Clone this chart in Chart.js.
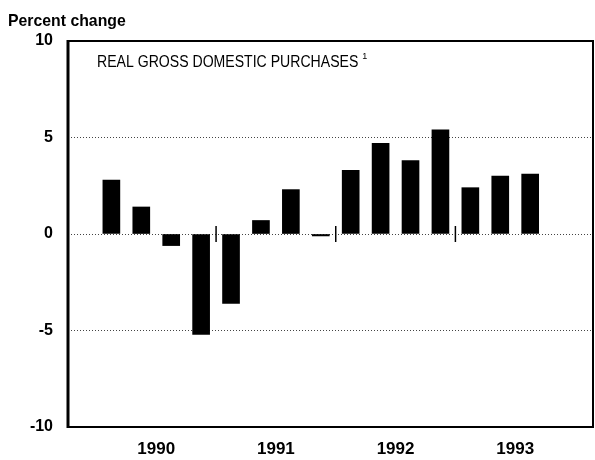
<!DOCTYPE html>
<html>
<head>
<meta charset="utf-8">
<script src="https://cdn.jsdelivr.net/npm/chart.js@4.4.0/dist/chart.umd.min.js"></script>
<style>
  html, body { margin: 0; padding: 0; background: #fff; }
  #wrap { width: 595px; height: 460px; position: relative; }
</style>
</head>
<body>
<div id="wrap"><canvas id="c" width="595" height="460"></canvas></div>
<script>
// Data (quarterly percent change, annual rate)
const quarters = ['1990 I','1990 II','1990 III','1990 IV','1991 I','1991 II','1991 III','1991 IV',
                  '1992 I','1992 II','1992 III','1992 IV','1993 I','1993 II','1993 III'];
const values = [2.8, 1.4, -0.6, -5.2, -3.6, 0.7, 2.3, -0.1, 3.3, 4.7, 3.8, 5.4, 2.4, 3.0, 3.1];
const yearLabels = ['1990', '1991', '1992', '1993'];
const yTicks = [-10, -5, 0, 5, 10];
const seriesTitle = 'REAL GROSS DOMESTIC PURCHASES';
const axisTitle = 'Percent change';

const yearCenters = yearLabels.map((_, k) => k * 4 + 1.5);
const yearBreaks = [3.5, 7.5, 11.5];

function scaledText(ctx, text, x, y, sx) {
  ctx.save();
  ctx.translate(x, y);
  ctx.scale(sx, 1);
  ctx.fillText(text, 0, 0);
  const w = ctx.measureText(text).width * sx;
  ctx.restore();
  return w;
}

const decor = {
  id: 'decor',
  afterDraw(chart) {
    const ctx = chart.ctx, a = chart.chartArea;
    const xs = chart.scales.x, ys = chart.scales.y;
    ctx.save();
    ctx.strokeStyle = '#000';
    ctx.lineWidth = 2;
    ctx.strokeRect(a.left, a.top, a.right - a.left, a.bottom - a.top);
    ctx.lineWidth = 3;
    ctx.beginPath(); ctx.moveTo(a.left, a.top - 1); ctx.lineTo(a.left, a.bottom + 1); ctx.stroke();
    // year separators at the zero line
    ctx.lineWidth = 1.5;
    const y0 = ys.getPixelForValue(0);
    yearBreaks.forEach(b => {
      const x = xs.getPixelForValue(b);
      ctx.beginPath(); ctx.moveTo(x, y0 - 8); ctx.lineTo(x, y0 + 8); ctx.stroke();
    });
    // texts
    ctx.fillStyle = '#000';
    ctx.textBaseline = 'alphabetic';
    ctx.textAlign = 'left';
    ctx.font = 'bold 17px "Liberation Sans", Arial, sans-serif';
    scaledText(ctx, axisTitle, 8, 26, 0.93);
    ctx.font = '16px "Liberation Sans", Arial, sans-serif';
    const w = scaledText(ctx, seriesTitle, a.left + 29, 67, 0.88);
    ctx.font = '9px "Liberation Sans", Arial, sans-serif';
    ctx.fillText('1', a.left + 29 + w + 4, 59);
    ctx.restore();
  }
};

new Chart(document.getElementById('c'), {
  type: 'bar',
  data: {
    labels: quarters,
    datasets: [{
      label: seriesTitle,
      data: values.map((v, i) => ({ x: i, y: v })),
      backgroundColor: '#000',
      borderWidth: 0,
      barThickness: 17
    }]
  },
  options: {
    responsive: false,
    animation: false,
    layout: { padding: { left: 0, right: 2, top: 41, bottom: 0 } },
    plugins: { legend: { display: false }, tooltip: { enabled: false }, title: { display: false } },
    scales: {
      x: {
        type: 'linear',
        offset: false,
        min: -1.45,
        max: 16.1,
        grid: { display: false, drawTicks: false },
        border: { display: false },
        afterBuildTicks(scale) { scale.ticks = yearCenters.map(v => ({ value: v })); },
        afterFit(scale) { scale.height = 33; },
        ticks: {
          autoSkip: false,
          maxRotation: 0,
          padding: 12,
          color: '#000',
          font: { family: '"Liberation Sans", Arial, sans-serif', size: 17, weight: 'bold' },
          callback: (v) => { const k = yearCenters.indexOf(v); return k >= 0 ? yearLabels[k] : ''; }
        }
      },
      y: {
        min: -10,
        max: 10,
        afterBuildTicks(scale) { scale.ticks = yTicks.map(v => ({ value: v })); },
        afterFit(scale) { scale.width = 68; },
        border: { display: false, dash: [1, 2] },
        grid: {
          drawTicks: false,
          color: (c) => (Math.abs(c.tick.value) === 10 ? 'rgba(0,0,0,0)' : '#444'),
          lineWidth: 1
        },
        ticks: {
          padding: 15,
          color: '#000',
          font: { family: '"Liberation Sans", Arial, sans-serif', size: 16, weight: 'bold' }
        }
      }
    }
  },
  plugins: [decor]
});
</script>
</body>
</html>
